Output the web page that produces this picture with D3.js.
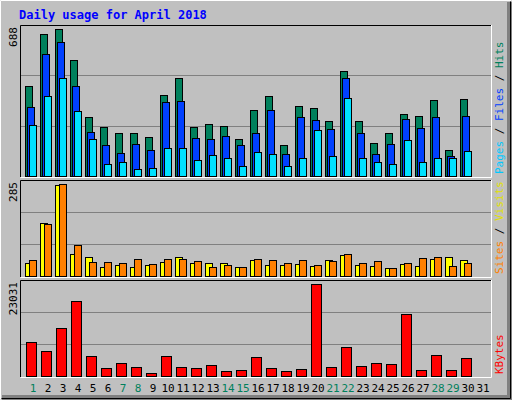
<!DOCTYPE html><html><head><meta charset="utf-8">
<script src="https://cdn.jsdelivr.net/npm/d3@7"></script>
<style>body{margin:0}svg{display:block;font-family:"DejaVu Sans Mono",monospace}</style></head><body>
<svg id="c" width="512" height="400"></svg>
<script>
const days=d3.range(1,32);
const hits=[420,664,688,541,275,228,200,200,181,378,457,228,242,233,172,308,373,144,326,317,256,490,256,153,200,289,280,355,120,359,0];
const files=[323,571,626,420,204,144,106,148,120,345,350,176,172,186,144,200,308,102,275,261,219,457,200,102,148,266,223,275,92,280,0];
const pages=[237,373,457,303,172,55,64,31,36,130,130,73,97,83,45,111,102,45,83,213,92,363,83,64,55,167,64,83,83,116,0];
const visits=[41,165,282,69,59,29,35,29,35,44,59,41,41,41,29,50,35,35,38,32,50,66,35,32,26,38,32,53,59,50,0];
const sites=[50,161,285,96,44,44,41,53,38,53,53,47,29,35,29,53,50,41,50,35,47,69,41,47,26,41,56,59,32,41,0];
const kbytes=[8405,6136,11936,18744,5127,2101,3362,2354,841,5127,2354,2101,2858,1345,1597,4875,2101,1345,1849,23031,2354,7145,2606,3362,3110,15466,1597,5380,1597,4623,0];
const weekend=[1,7,8,14,15,21,22,28,29];
const svg=d3.select("#c");
svg.append("rect").attr("width",512).attr("height",400).attr("fill","#c0c0c0");
svg.append("path").attr("d","M0.5,399.5V0.5H511.5").attr("stroke","#fff").attr("fill","none");
svg.append("rect").attr("x",507).attr("y",2).attr("width",5).attr("height",398).attr("fill","#808080");
svg.append("rect").attr("x",2).attr("y",395).attr("width",510).attr("height",5).attr("fill","#808080");
svg.append("path").attr("d","M1.5,398.5H510.5V1.5").attr("stroke","#000").attr("fill","none");
svg.append("text").attr("x",19).attr("y",19).text("Daily usage for April 2018").attr("fill","#0000ff").attr("font-weight","bold").attr("font-size",12);
const x=d3.scaleBand().domain(days).range([22,487]);
function panel(top,bot,max,label,series,rightParts){
  svg.append("path").attr("d",`M20.5,${bot}V${top}.5H491.5`).attr("stroke","#000").attr("fill","none");
  svg.append("path").attr("d",`M20.5,${bot}.5H491.5V${top}`).attr("stroke","#fff").attr("fill","none");
  const y=d3.scaleLinear().domain([0,max]).range([bot-1,top+4]);
  const gh=(bot-1-top)/3;
  [1,2].forEach(k=>svg.append("line").attr("x1",21).attr("x2",491).attr("y1",Math.round(bot-1-gh*k)+.5).attr("y2",Math.round(bot-1-gh*k)+.5).attr("stroke","#808080"));
  series.forEach(s=>{
    svg.append("g").selectAll("rect").data(s.data).join("rect")
      .attr("x",(d,i)=>x(days[i])+s.off+.5).attr("width",s.w)
      .attr("y",d=>Math.round(y(d))+.5).attr("height",d=>d>0?bot-1-Math.round(y(d)):0)
      .attr("fill",s.c).attr("stroke","#000");
  });
  svg.append("text").attr("transform",`translate(17,${top+2}) rotate(-90)`).attr("text-anchor","end").attr("font-size",11).text(label);
  const t=svg.append("text").attr("transform",`translate(503,${bot-3}) rotate(-90)`).attr("font-size",11);
  rightParts.forEach(p=>t.append("tspan").attr("fill",p[1]).text(p[0]));
}
panel(25,177,688,"688",[
 {data:hits,off:3,w:7,c:"#00805c"},{data:files,off:5,w:7,c:"#0040ff"},{data:pages,off:7,w:7,c:"#00e0ff"}],
 [["Pages","#00c8ff"],[" / ","#000"],["Files","#0040ff"],[" / ","#000"],["Hits","#00805c"]]);
panel(180,277,285,"285",[{data:visits,off:3,w:7,c:"#ffff00"},{data:sites,off:7,w:7,c:"#ff8000"}],
 [["Sites","#ff8000"],[" / ","#000"],["Visits","#e0e000"]]);
panel(280,377,23031,"23031",[{data:kbytes,off:4,w:10,c:"#ff0000"}],[["KBytes","#ff0000"]]);
svg.append("g").selectAll("text").data(days).join("text").attr("x",d=>x(d)+11).attr("y",392).attr("text-anchor","middle")
 .attr("font-size",11).attr("fill",d=>weekend.includes(d)?"#00805c":"#000").text(d=>d);
</script></body></html>
